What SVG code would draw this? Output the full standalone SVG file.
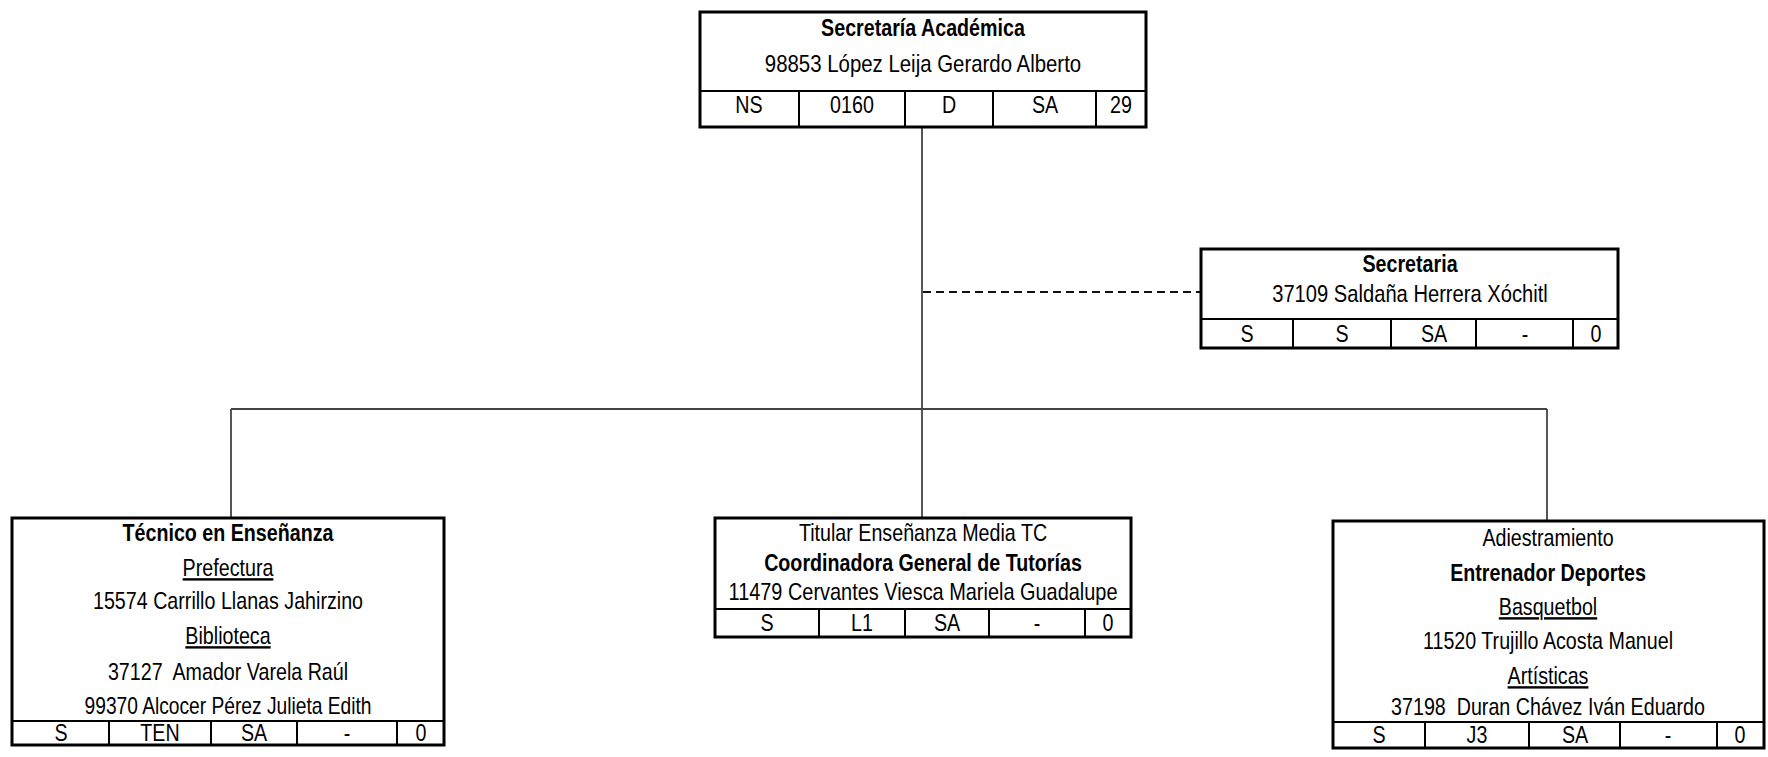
<svg xmlns="http://www.w3.org/2000/svg" width="1768" height="757" viewBox="0 0 1768 757">
<style>
text{font-family:"Liberation Sans",Arial,sans-serif;font-size:24px;fill:#000;text-anchor:middle;white-space:pre}
.b{font-weight:bold}
.u{text-decoration:underline}
.box{fill:#fff;stroke:#000;stroke-width:3}
.div{stroke:#000;stroke-width:2;fill:none}
.con{stroke:#444;stroke-width:1.8;fill:none}
.dash{stroke:#111;stroke-width:2;stroke-dasharray:8 5}
</style>
<rect x="0" y="0" width="1768" height="757" fill="#fff"/>
<g id="connectors">
<line class="con" x1="922" y1="127" x2="922" y2="409"/>
<line class="con dash" x1="923" y1="292" x2="1201" y2="292"/>
<line class="con" x1="231" y1="409" x2="1547" y2="409"/>
<line class="con" x1="231" y1="409" x2="231" y2="518"/>
<line class="con" x1="922" y1="409" x2="922" y2="518"/>
<line class="con" x1="1547" y1="409" x2="1547" y2="521"/>
</g>
<g id="secretaria-academica">
<rect class="box" x="700" y="12" width="446" height="115"/>
<path class="div" d="M700 91H1146M799 91V127M905 91V127M993 91V127M1096 91V127"/>
<text class="b" transform="matrix(0.82 0 0 1 923 36)">Secretaría Académica</text>
<text transform="matrix(0.85 0 0 1 923 72)">98853 López Leija Gerardo Alberto</text>
<text transform="matrix(0.82 0 0 1 749 113)">NS</text>
<text transform="matrix(0.82 0 0 1 852 113)">0160</text>
<text transform="matrix(0.82 0 0 1 949 113)">D</text>
<text transform="matrix(0.82 0 0 1 1045 113)">SA</text>
<text transform="matrix(0.82 0 0 1 1121 113)">29</text>
</g>
<g id="secretaria">
<rect class="box" x="1201" y="249" width="417" height="99"/>
<path class="div" d="M1201 319H1618M1293 319V348M1391 319V348M1476 319V348M1573 319V348"/>
<text class="b" transform="matrix(0.82 0 0 1 1410 272)">Secretaria</text>
<text transform="matrix(0.84 0 0 1 1410 302)">37109 Saldaña Herrera Xóchitl</text>
<text transform="matrix(0.82 0 0 1 1247 342)">S</text>
<text transform="matrix(0.82 0 0 1 1342 342)">S</text>
<text transform="matrix(0.82 0 0 1 1434 342)">SA</text>
<text transform="matrix(0.82 0 0 1 1525 342)">-</text>
<text transform="matrix(0.82 0 0 1 1596 342)">0</text>
</g>
<g id="tecnico-ensenanza">
<rect class="box" x="12" y="518" width="432" height="227"/>
<path class="div" d="M12 721H444M109 721V745M211 721V745M297 721V745M397 721V745"/>
<text class="b" transform="matrix(0.82 0 0 1 228 541)">Técnico en Enseñanza</text>
<text class="u" transform="matrix(0.82 0 0 1 228 576)">Prefectura</text>
<text transform="matrix(0.82 0 0 1 228 609)">15574 Carrillo Llanas Jahirzino</text>
<text class="u" transform="matrix(0.82 0 0 1 228 644)">Biblioteca</text>
<text transform="matrix(0.82 0 0 1 228 680)">37127  Amador Varela Raúl</text>
<text transform="matrix(0.80 0 0 1 228 714)">99370 Alcocer Pérez Julieta Edith</text>
<text transform="matrix(0.82 0 0 1 61 741)">S</text>
<text transform="matrix(0.82 0 0 1 160 741)">TEN</text>
<text transform="matrix(0.82 0 0 1 254 741)">SA</text>
<text transform="matrix(0.82 0 0 1 347 741)">-</text>
<text transform="matrix(0.82 0 0 1 421 741)">0</text>
</g>
<g id="titular-ensenanza">
<rect class="box" x="715" y="518" width="416" height="119"/>
<path class="div" d="M715 609H1131M819 609V637M905 609V637M989 609V637M1085 609V637"/>
<text transform="matrix(0.82 0 0 1 923 541)">Titular Enseñanza Media TC</text>
<text class="b" transform="matrix(0.82 0 0 1 923 571)">Coordinadora General de Tutorías</text>
<text transform="matrix(0.83 0 0 1 923 600)">11479 Cervantes Viesca Mariela Guadalupe</text>
<text transform="matrix(0.82 0 0 1 767 631)">S</text>
<text transform="matrix(0.82 0 0 1 862 631)">L1</text>
<text transform="matrix(0.82 0 0 1 947 631)">SA</text>
<text transform="matrix(0.82 0 0 1 1037 631)">-</text>
<text transform="matrix(0.82 0 0 1 1108 631)">0</text>
</g>
<g id="adiestramiento">
<rect class="box" x="1333" y="521" width="431" height="227"/>
<path class="div" d="M1333 722H1764M1425 722V748M1529 722V748M1620 722V748M1717 722V748"/>
<text transform="matrix(0.82 0 0 1 1548 546)">Adiestramiento</text>
<text class="b" transform="matrix(0.82 0 0 1 1548 581)">Entrenador Deportes</text>
<text class="u" transform="matrix(0.82 0 0 1 1548 615)">Basquetbol</text>
<text transform="matrix(0.82 0 0 1 1548 649)">11520 Trujillo Acosta Manuel</text>
<text class="u" transform="matrix(0.82 0 0 1 1548 684)">Artísticas</text>
<text transform="matrix(0.82 0 0 1 1548 715)">37198  Duran Chávez Iván Eduardo</text>
<text transform="matrix(0.82 0 0 1 1379 743)">S</text>
<text transform="matrix(0.82 0 0 1 1477 743)">J3</text>
<text transform="matrix(0.82 0 0 1 1575 743)">SA</text>
<text transform="matrix(0.82 0 0 1 1668 743)">-</text>
<text transform="matrix(0.82 0 0 1 1740 743)">0</text>
</g>
</svg>
